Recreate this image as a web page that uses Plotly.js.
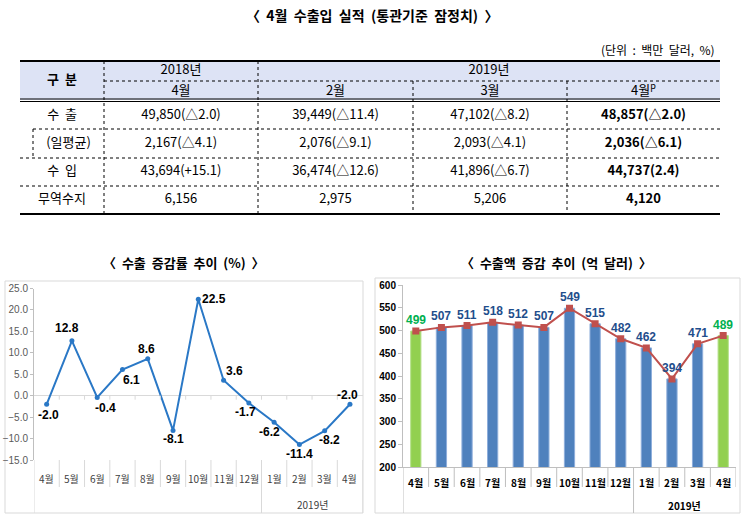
<!DOCTYPE html>
<html><head><meta charset="utf-8">
<script src="https://cdn.plot.ly/plotly-3.0.1.min.js"></script>
<style>html,body{margin:0;padding:0;background:#fff;}#chart{width:743px;height:518px;}</style>
</head><body><div id="chart"></div>
<script>
// ---------------- data ----------------
const pageTitle = "〈 4월 수출입 실적 (통관기준 잠정치) 〉";
const unitNote = "(단위 : 백만 달러, %)";
const tableCorner = "구 분";
const tableYears = ["2018년", "2019년"];
const tableMonths = ["4월", "2월", "3월", "4월<sup>p</sup>"];
const tableRowLabels = ["수 출", "(일평균)", "수 입", "무역수지"];
const colApr2018 = ["49,850(△2.0)", "2,167(△4.1)", "43,694(+15.1)", "6,156"];
const colFeb2019 = ["39,449(△11.4)", "2,076(△9.1)", "36,474(△12.6)", "2,975"];
const colMar2019 = ["47,102(△8.2)", "2,093(△4.1)", "41,896(△6.7)", "5,206"];
const colApr2019 = ["48,857(△2.0)", "2,036(△6.1)", "44,737(2.4)", "4,120"];

const growthTitle = "〈 수출 증감률 추이 (%) 〉";
const amountTitle = "〈 수출액 증감 추이 (억 달러) 〉";
const months = ["4월","5월","6월","7월","8월","9월","10월","11월","12월","1월","2월","3월","4월"];
const yearGroup = "2019년";
const yearGroupStart = 9; // index of 1월
const exportGrowth = [-2.0, 12.8, -0.4, 6.1, 8.6, -8.1, 22.5, 3.6, -1.7, -6.2, -11.4, -8.2, -2.0];
const exportAmount = [499, 507, 511, 518, 512, 507, 549, 515, 482, 462, 394, 471, 489];
const growthTicks = [-15, -10, -5, 0, 5, 10, 15, 20, 25];
const amountTicks = [200, 250, 300, 350, 400, 450, 500, 550, 600];

// ---------------- layout geometry / styles ----------------
const W = 743, H = 518;
const PX = p => p / W, PY = p => 1 - p / H;
const KR = "Noto Sans CJK KR, Noto Sans, sans-serif";
const NUM = "Liberation Sans, Arial, sans-serif";
const NARROW = "Liberation Sans Narrow, Arial Narrow, Liberation Sans, sans-serif";
const idx = months.map((_, i) => i);
const wide = s => s.replace(/ /g, '\u00a0\u00a0');

// label offsets (px) for growth chart data labels [dx, dy(down)]
const growthLabelOffset = [[2,11],[-5,-13],[8,11],[9,10],[-1,-10],[0,9],[16,0],[11,-9],[-3,9],[-5,10],[0,9],[5,9],[-2,-9]];

const tableCols = [20, 104, 258, 413, 567, 720];
const tableRows = [61, 81, 100, 129, 158, 186, 214];
const indentX = 33;

const shapes = [];
const annotations = [];
const traces = [];

// ---------- page title ----------
annotations.push({xref:'paper', yref:'paper', x:PX(372), y:PY(15), text:'<b>'+wide(pageTitle)+'</b>', showarrow:false,
  font:{family:KR, size:14, color:'#000'}, xanchor:'center', yanchor:'middle'});
annotations.push({xref:'paper', yref:'paper', x:PX(717), y:PY(49), text:wide(unitNote), showarrow:false,
  font:{family:KR, size:12, color:'#000'}, xanchor:'right', yanchor:'middle'});

// ---------- table (hidden pixel axes x3/y3) ----------
const T = (o) => Object.assign({xref:'x3', yref:'y3', layer:'below'}, o);
shapes.push(T({type:'rect', x0:tableCols[0], x1:tableCols[5], y0:tableRows[0], y1:tableRows[2], fillcolor:'#dde3f5', line:{width:0}}));
const hline = (y, x0, x1, w, dash) => shapes.push(T({type:'line', x0, x1, y0:y, y1:y, layer:'above', line:{color:'#000', width:w, dash:dash||'solid'}}));
const vline = (x, y0, y1) => shapes.push(T({type:'line', x0:x, x1:x, y0, y1, layer:'above', line:{color:'#000', width:1, dash:'dot'}}));
hline(tableRows[0], tableCols[0], tableCols[5], 2);
hline(tableRows[1], tableCols[1], tableCols[5], 1, 'dot');
hline(tableRows[2]-1, tableCols[0], tableCols[5], 1.2);
hline(tableRows[2]+1.5, tableCols[0], tableCols[5], 1.2);
hline(tableRows[3], indentX, tableCols[5], 1, 'dot');
hline(tableRows[4], tableCols[0], tableCols[5], 1, 'dot');
hline(tableRows[5], tableCols[0], tableCols[5], 1, 'dot');
hline(tableRows[6], tableCols[0], tableCols[5], 2);
vline(tableCols[1], tableRows[0], tableRows[6]);
vline(tableCols[2], tableRows[0], tableRows[6]);
vline(tableCols[3], tableRows[1], tableRows[6]);
vline(tableCols[4], tableRows[1], tableRows[6]);
vline(indentX, tableRows[3], tableRows[4]);

const mid = (a, b) => (a + b) / 2;
const tx = [], ty = [], tt = [];
const cell = (x, y, s) => { tx.push(x); ty.push(y); tt.push(s); };
cell(mid(tableCols[0], tableCols[1]), mid(tableRows[0], tableRows[2]), '<b>'+wide(tableCorner)+'</b>');
cell(mid(tableCols[1], tableCols[2]), mid(tableRows[0], tableRows[1]), tableYears[0]);
cell(mid(tableCols[2], tableCols[5]), mid(tableRows[0], tableRows[1]), tableYears[1]);
tableMonths.forEach((m, j) => cell(mid(tableCols[j+1], tableCols[j+2]), mid(tableRows[1], tableRows[2]) + 1, m));
const dataCols = [colApr2018, colFeb2019, colMar2019, colApr2019];
tableRowLabels.forEach((lab, r) => {
  const yc = mid(tableRows[r+2] + (r === 0 ? 1.5 : 0), tableRows[r+3]);
  const x0 = r === 1 ? indentX : tableCols[0];
  cell(mid(x0, tableCols[1]), yc, wide(lab));
  dataCols.forEach((col, j) => cell(mid(tableCols[j+1], tableCols[j+2]), yc, j === 3 ? '<b>'+col[r]+'</b>' : col[r]));
});
traces.push({type:'scatter', mode:'text', x:tx, y:ty, text:tt, xaxis:'x3', yaxis:'y3',
  textposition:'middle center', textfont:{family:KR, size:13, color:'#000'}, hoverinfo:'skip', showlegend:false});

// ---------- left chart: growth ----------
const L = {x0:34, x1:362.6, yTop:288.5, yBot:460, sepBot:487, boxBot:513};
shapes.push({type:'rect', xref:'paper', yref:'paper', x0:PX(5), x1:PX(363), y0:PY(513), y1:PY(281), line:{color:'#d9d9d9', width:1}, layer:'below'});
annotations.push({xref:'paper', yref:'paper', x:PX(184), y:PY(262), text:'<b>'+wide(growthTitle)+'</b>', showarrow:false,
  font:{family:KR, size:13, color:'#000'}, xanchor:'center', yanchor:'middle'});
traces.push({type:'scatter', mode:'lines+markers', x:idx, y:exportGrowth, xaxis:'x', yaxis:'y',
  line:{color:'#2a78c6', width:2}, marker:{color:'#2a78c6', size:5}, hoverinfo:'skip', showlegend:false, cliponaxis:false});
exportGrowth.forEach((v, i) => annotations.push({xref:'x', yref:'y', x:i, y:v, text:'<b>'+v.toFixed(1)+'</b>', showarrow:false,
  xshift:growthLabelOffset[i][0], yshift:-growthLabelOffset[i][1], font:{family:NUM, size:12, color:'#000'}, xanchor:'center', yanchor:'middle'}));
for (let b = 0; b <= months.length; b++) {
  const full = (b === 0 || b === yearGroupStart || b === months.length);
  shapes.push({type:'line', xref:'x', yref:'paper', x0:b-0.5, x1:b-0.5, y0:PY(L.yBot), y1:PY(full ? L.boxBot : L.sepBot), line:{color:'#d9d9d9', width:1}});
  if (b > 0 && b < months.length) shapes.push({type:'line', xref:'x', yref:'y', ysizemode:'pixel', yanchor:0, x0:b-0.5, x1:b-0.5, y0:0, y1:-4, line:{color:'#d9d9d9', width:1}});
}
months.forEach((m, i) => annotations.push({xref:'x', yref:'paper', x:i, y:PY(478), text:m, showarrow:false,
  font:{family:KR, size:10, color:'#404040'}, xanchor:'center', yanchor:'middle'}));
annotations.push({xref:'x', yref:'paper', x:(yearGroupStart + months.length - 1)/2, y:PY(504), text:yearGroup, showarrow:false,
  font:{family:KR, size:10, color:'#404040'}, xanchor:'center', yanchor:'middle'});

// ---------- right chart: amount ----------
const R = {x0:403, x1:736, yTop:285, yBot:467.3, sepBot:487, boxBot:513};
shapes.push({type:'rect', xref:'paper', yref:'paper', x0:PX(375), x1:PX(740), y0:PY(513), y1:PY(278), line:{color:'#d9d9d9', width:1}, layer:'below'});
annotations.push({xref:'paper', yref:'paper', x:PX(556), y:PY(262), text:'<b>'+wide(amountTitle)+'</b>', showarrow:false,
  font:{family:KR, size:13, color:'#000'}, xanchor:'center', yanchor:'middle'});
const isHighlight = months.map(m => m === months[months.length-1]);
traces.push({type:'bar', x:idx, y:exportAmount, xaxis:'x2', yaxis:'y2',
  marker:{color:isHighlight.map(h => h ? '#92d050' : '#4f81bd'), line:{color:isHighlight.map(h => h ? '#b5e08a' : '#8eaedb'), width:1}},
  hoverinfo:'skip', showlegend:false});
traces.push({type:'scatter', mode:'lines+markers', x:idx, y:exportAmount, xaxis:'x2', yaxis:'y2',
  line:{color:'#c0504d', width:2}, marker:{color:'#c0504d', size:7, symbol:'square'}, hoverinfo:'skip', showlegend:false});
exportAmount.forEach((v, i) => annotations.push({xref:'x2', yref:'y2', x:i, y:v, text:'<b>'+v+'</b>', showarrow:false,
  yshift:11, font:{family:NUM, size:12, color:isHighlight[i] ? '#00b050' : '#1f4e8c'}, xanchor:'center', yanchor:'middle'}));
for (let b = 0; b <= months.length; b++) {
  const full = (b === 0 || b === yearGroupStart);
  shapes.push({type:'line', xref:'x2', yref:'paper', x0:b-0.5, x1:b-0.5, y0:PY(R.yBot), y1:PY(full ? R.boxBot : R.sepBot), line:{color:'#bfbfbf', width:1}});
}
months.forEach((m, i) => annotations.push({xref:'x2', yref:'paper', x:i, y:PY(482), text:'<b>'+m+'</b>', showarrow:false,
  font:{family:KR, size:10, color:'#000'}, xanchor:'center', yanchor:'middle'}));
annotations.push({xref:'x2', yref:'paper', x:(yearGroupStart + months.length - 1)/2, y:PY(505), text:'<b>'+yearGroup+'</b>', showarrow:false,
  font:{family:KR, size:10, color:'#000'}, xanchor:'center', yanchor:'middle'});

const layout = {
  width:W, height:H, margin:{l:0, r:0, t:0, b:0}, paper_bgcolor:'#fff', plot_bgcolor:'rgba(0,0,0,0)',
  showlegend:false, bargap:0.6,
  xaxis:{domain:[PX(L.x0), PX(L.x1)], range:[-0.5, months.length-0.5], showticklabels:false, ticks:'', showgrid:false, zeroline:false, showline:false, anchor:'y'},
  yaxis:{domain:[PY(L.yBot), PY(L.yTop)], range:[growthTicks[0], growthTicks[growthTicks.length-1]], tickvals:growthTicks, tickformat:'.1f',
    ticks:'outside', ticklen:3, tickcolor:'#bfbfbf', showline:true, linecolor:'#bfbfbf', showgrid:false, zeroline:true, zerolinecolor:'#d9d9d9', zerolinewidth:1,
    tickfont:{family:NARROW, size:10, color:'#595959'}, anchor:'x'},
  xaxis2:{domain:[PX(R.x0), PX(R.x1)], range:[-0.5, months.length-0.5], showticklabels:false, ticks:'', showgrid:false, zeroline:false, showline:true, linecolor:'#bfbfbf', anchor:'y2'},
  yaxis2:{domain:[PY(R.yBot), PY(R.yTop)], range:[amountTicks[0], amountTicks[amountTicks.length-1]], tickvals:amountTicks,
    ticks:'outside', ticklen:4, tickcolor:'#bfbfbf', showline:true, linecolor:'#bfbfbf', showgrid:false, zeroline:false,
    tickfont:{family:NUM, size:10, color:'#000', weight:'bold'}, anchor:'x2'},
  xaxis3:{domain:[0,1], range:[0, W], visible:false, anchor:'y3'},
  yaxis3:{domain:[0,1], range:[H, 0], visible:false, anchor:'x3'},
  shapes, annotations
};
Plotly.newPlot('chart', traces, layout, {staticPlot:true, displayModeBar:false});
</script></body></html>
